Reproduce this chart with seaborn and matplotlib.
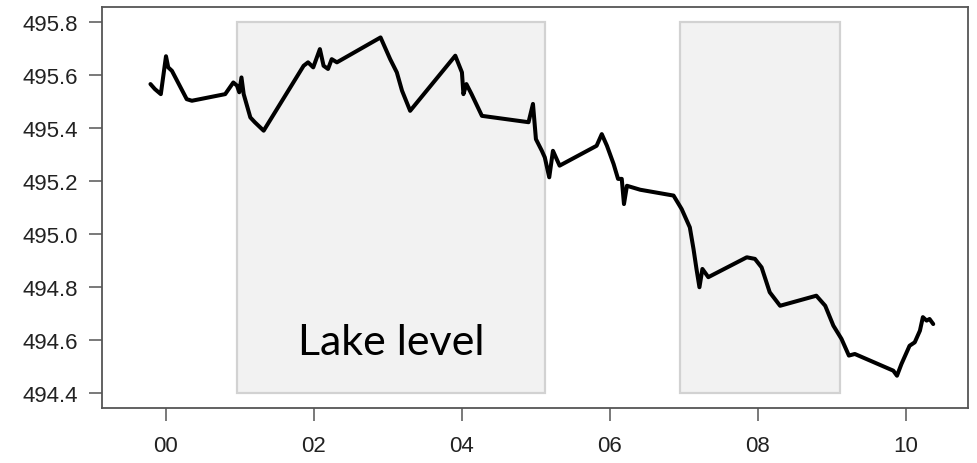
import numpy as np
import pandas as pd
import matplotlib
matplotlib.use("Agg")
import matplotlib.pyplot as plt
from matplotlib.patches import Rectangle
import seaborn as sns

# lake level readings (decimal year, metres)
years = [1999.79, 1999.85, 1999.93, 2000.00, 2000.03, 2000.08, 2000.28, 2000.35,
         2000.80, 2000.91, 2000.96, 2000.99, 2001.02, 2001.05, 2001.14, 2001.20,
         2001.32, 2001.86, 2001.92, 2001.99, 2002.08, 2002.13, 2002.19, 2002.24,
         2002.31, 2002.90, 2003.03, 2003.12, 2003.19, 2003.30, 2003.91, 2004.00,
         2004.02, 2004.06, 2004.13, 2004.27, 2004.90, 2004.96, 2005.00, 2005.08,
         2005.12, 2005.18, 2005.23, 2005.32, 2005.82, 2005.89, 2005.96, 2006.05,
         2006.11, 2006.16, 2006.19, 2006.23, 2006.41, 2006.86, 2006.97, 2007.08,
         2007.13, 2007.17, 2007.21, 2007.25, 2007.33, 2007.85, 2007.96, 2008.05,
         2008.16, 2008.30, 2008.79, 2008.91, 2009.02, 2009.13, 2009.23, 2009.31,
         2009.83, 2009.88, 2009.94, 2010.05, 2010.12, 2010.19, 2010.23, 2010.28,
         2010.32, 2010.37]
levels = [495.566, 495.547, 495.528, 495.671, 495.629, 495.616, 495.509, 495.503,
          495.528, 495.572, 495.560, 495.535, 495.591, 495.528, 495.440, 495.422,
          495.390, 495.635, 495.648, 495.629, 495.698, 495.635, 495.623, 495.660,
          495.648, 495.742, 495.660, 495.610, 495.541, 495.465, 495.673, 495.610,
          495.528, 495.566, 495.528, 495.446, 495.422, 495.491, 495.358, 495.314,
          495.289, 495.214, 495.314, 495.258, 495.333, 495.377, 495.333, 495.264,
          495.208, 495.208, 495.113, 495.182, 495.167, 495.145, 495.094, 495.025,
          494.943, 494.868, 494.799, 494.868, 494.837, 494.912, 494.906, 494.874,
          494.780, 494.729, 494.767, 494.729, 494.654, 494.604, 494.541, 494.547,
          494.484, 494.465, 494.509, 494.578, 494.591, 494.635, 494.686, 494.673,
          494.679, 494.660]

# shaded periods
period_start = [2000.96, 2006.95]
period_end = [2005.12, 2009.11]
shade_bottom = 494.4
shade_top = 495.8

xticks = [2000, 2002, 2004, 2006, 2008, 2010]
xtick_labels = ["00", "02", "04", "06", "08", "10"]
yticks = [494.4, 494.6, 494.8, 495.0, 495.2, 495.4, 495.6, 495.8]

df = pd.DataFrame({"year": years, "level": levels})

sns.set_style("white")
plt.rcParams["font.family"] = ["Liberation Sans", "DejaVu Sans"]

fig = plt.figure(figsize=(9.77, 4.64), dpi=100)
ax = fig.add_axes([0.1044, 0.1185, 0.8864, 0.8643])

for s, e in zip(period_start, period_end):
    ax.add_patch(Rectangle((s, shade_bottom), e - s, shade_top - shade_bottom,
                           facecolor="#f2f2f2", edgecolor="#d2d2d2", lw=1.6, zorder=0))

sns.lineplot(data=df, x="year", y="level", ax=ax, color="black", lw=2.9,
             estimator=None, sort=False, zorder=3,
             solid_joinstyle="round", solid_capstyle="round")

ax.set_xlim(1999.135, 2010.84)
ax.set_ylim(494.343, 495.857)
ax.set_xticks(xticks)
ax.set_xticklabels(xtick_labels)
ax.set_yticks(yticks)
ax.set_yticklabels([f"{v:.1f}" for v in yticks])
ax.set_xlabel("")
ax.set_ylabel("")

for sp in ax.spines.values():
    sp.set_visible(True)
    sp.set_color("#555555")
    sp.set_linewidth(1.3)

ax.tick_params(axis="both", direction="out", length=9.5, width=1.1, color="#555555",
               labelsize=16, labelcolor="#222222")
ax.tick_params(axis="y", pad=8)
ax.tick_params(axis="x", pad=10)
ax.tick_params(left=True, bottom=True)

ax.text(2001.784, 494.547, "Lake level", family=["Lato", "DejaVu Sans"], fontsize=31,
        color="black", ha="left", va="baseline", zorder=4)

fig.savefig("out.png", dpi=100)
